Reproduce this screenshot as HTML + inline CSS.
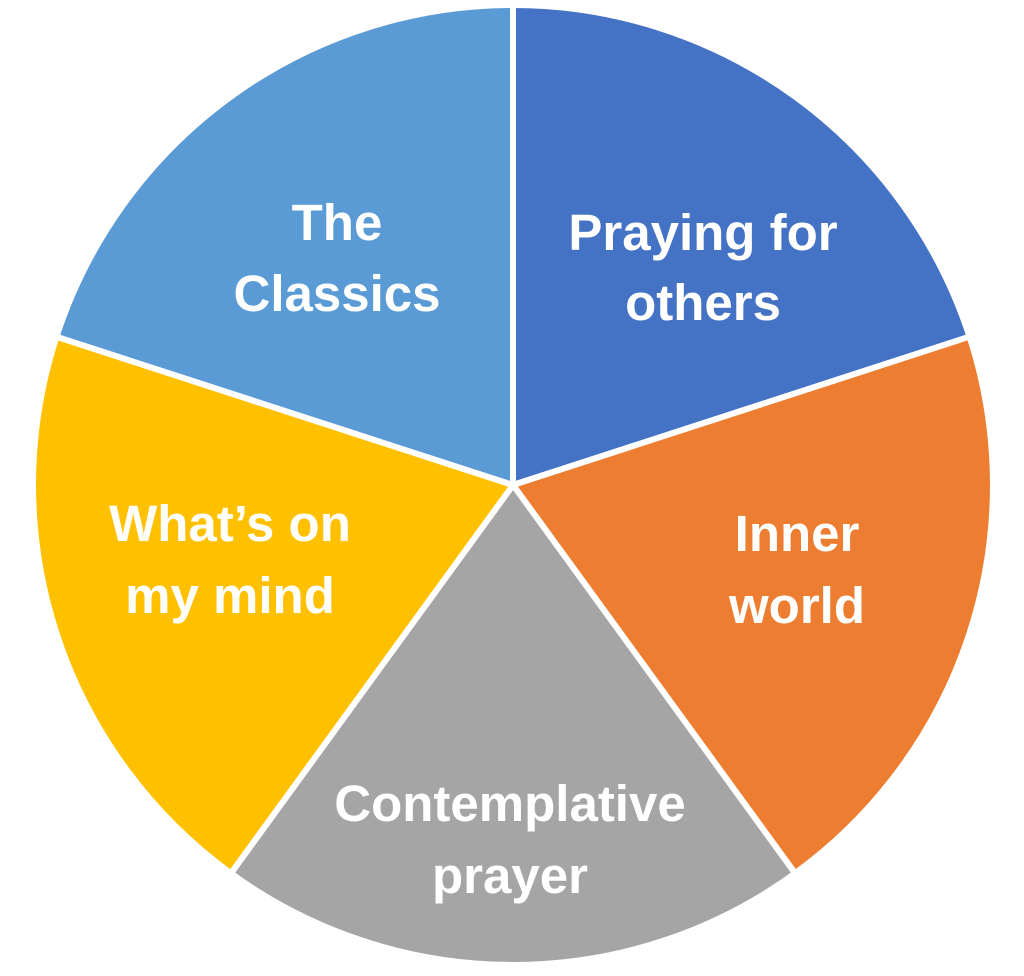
<!DOCTYPE html>
<html><head><meta charset="utf-8"><style>
html,body{margin:0;padding:0;background:#fff;width:1024px;height:976px;overflow:hidden}
text{font-family:"Liberation Sans",sans-serif;font-weight:bold;fill:#fff;font-size:51px;text-anchor:middle}
</style></head><body>
<svg width="1024" height="976" viewBox="0 0 1024 976">
<g stroke="#fff" stroke-width="6" stroke-linejoin="round">
<path d="M513,485 L513,5 A480,480 0 0 1 969.5,336.7 Z" fill="#4472C4"/>
<path d="M513,485 L969.5,336.7 A480,480 0 0 1 795.1,873.3 Z" fill="#ED7D31"/>
<path d="M513,485 L795.1,873.3 A480,480 0 0 1 230.9,873.3 Z" fill="#A5A5A5"/>
<path d="M513,485 L230.9,873.3 A480,480 0 0 1 56.5,336.7 Z" fill="#FFC000"/>
<path d="M513,485 L56.5,336.7 A480,480 0 0 1 513,5 Z" fill="#5B9BD5"/>
</g>
<text x="337" y="240">The</text>
<text x="337" y="311">Classics</text>
<text x="703" y="250">Praying for</text>
<text x="703" y="320">others</text>
<text x="797" y="551">Inner</text>
<text x="797" y="623">world</text>
<text x="230" y="541">What’s on</text>
<text x="230" y="613">my mind</text>
<text x="510" y="821">Contemplative</text>
<text x="510" y="893">prayer</text>
</svg>
</body></html>
